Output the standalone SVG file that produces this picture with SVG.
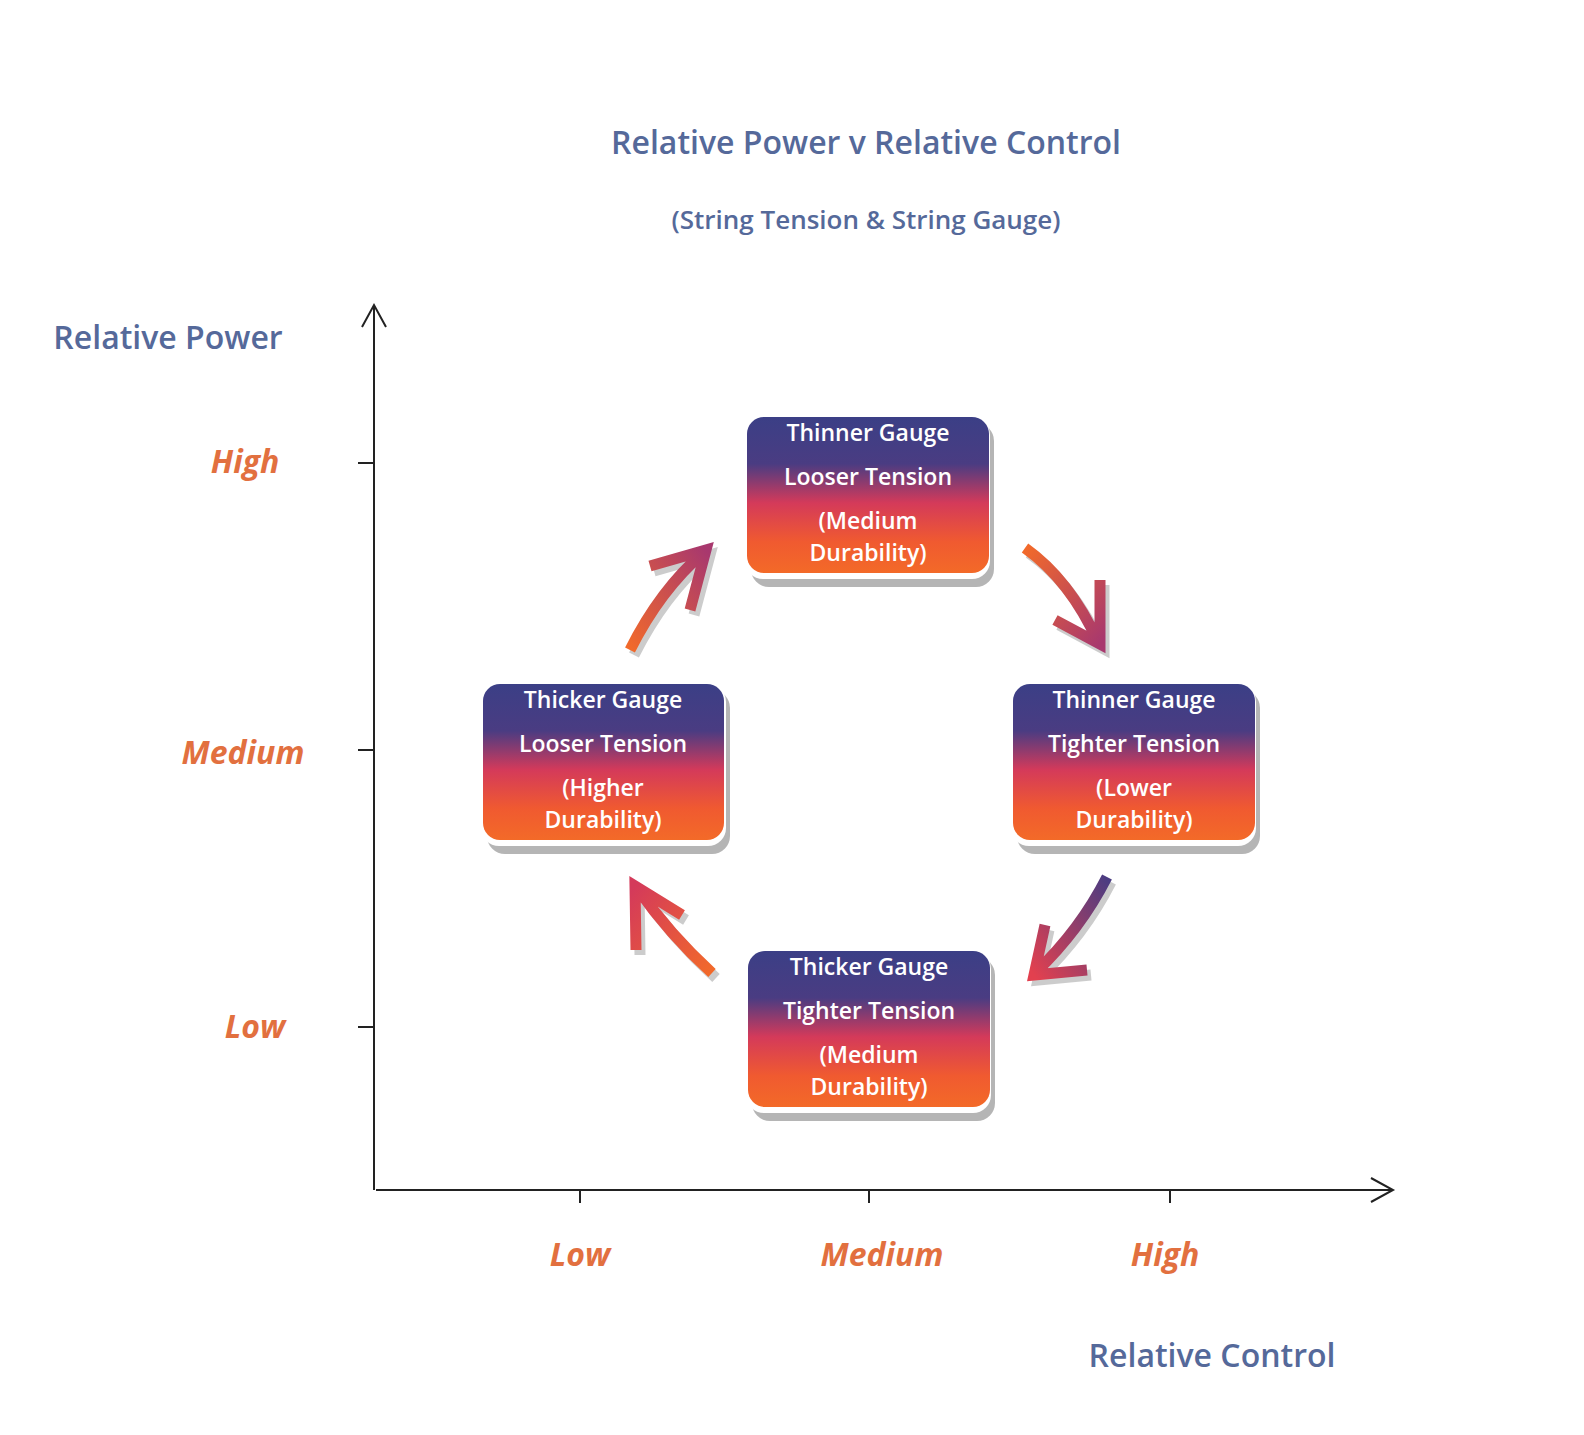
<svg xmlns="http://www.w3.org/2000/svg" width="1584" height="1435" viewBox="0 0 1584 1435">
<style>
.t{font-family:"Open Sans","Liberation Sans",sans-serif;font-weight:600;fill:#55699a;text-anchor:middle}
.lab{font-family:"Open Sans","Liberation Sans",sans-serif;font-weight:700;font-style:italic;fill:#e2703f;font-size:32px;text-anchor:middle}
.bt{font-family:"Open Sans","Liberation Sans",sans-serif;font-weight:600;fill:#fff;font-size:23px;text-anchor:middle}
.ax{stroke:#222;stroke-width:2;fill:none}
.arr{fill:none;stroke-width:11;stroke-linecap:butt;stroke-linejoin:miter}
.sh{fill:none;stroke:#aaa;stroke-width:11}
</style>
<defs>
<linearGradient id="bg" x1="0" y1="0" x2="0" y2="1">
<stop offset="0" stop-color="#3b3f86"/><stop offset="0.3" stop-color="#4a3c82"/><stop offset="0.55" stop-color="#d43a5a"/><stop offset="0.8" stop-color="#f05a30"/><stop offset="1" stop-color="#f36a28"/>
</linearGradient>
<linearGradient id="ag1" x1="0" y1="1" x2="1" y2="0"><stop offset="0" stop-color="#f26a2a"/><stop offset="1" stop-color="#a8386e"/></linearGradient>
<linearGradient id="ag2" x1="0" y1="0" x2="1" y2="1"><stop offset="0" stop-color="#f26a2a"/><stop offset="1" stop-color="#a8386e"/></linearGradient>
<linearGradient id="ag3" x1="1" y1="0" x2="0" y2="1"><stop offset="0" stop-color="#4a3c82"/><stop offset="1" stop-color="#e2404f"/></linearGradient>
<linearGradient id="ag4" x1="1" y1="1" x2="0" y2="0"><stop offset="0" stop-color="#f26a2a"/><stop offset="1" stop-color="#d43a5a"/></linearGradient>
</defs>
<text class="t" x="866" y="154" font-size="32">Relative Power v Relative Control</text>
<text class="t" x="866" y="229" font-size="26">(String Tension &amp; String Gauge)</text>
<text class="t" x="168" y="349" font-size="32" fill="#4b5a8c">Relative Power</text>
<text class="t" x="1212" y="1367" font-size="32">Relative Control</text>
<g id="axes">
<path class="ax" d="M374 1190 V305 M362 327 L374 305 L386 327"/>
<path class="ax" d="M376 1190 H1393 M1371 1178 L1393 1190 L1371 1202"/>
<path class="ax" d="M358 463 H374 M358 750 H374 M358 1027 H374 M580 1190 V1203 M869 1190 V1203 M1170 1190 V1203"/>
</g>
<text class="lab" x="245" y="473">High</text>
<text class="lab" x="243" y="764">Medium</text>
<text class="lab" x="255" y="1038">Low</text>
<text class="lab" x="580" y="1266">Low</text>
<text class="lab" x="882" y="1266">Medium</text>
<text class="lab" x="1165" y="1266">High</text>
<g id="n1"><rect x="751" y="423" width="243" height="164" rx="18" fill="#b5b5b5"/><rect x="745" y="417" width="245" height="162" rx="18" fill="#fff"/><rect x="747" y="417" width="242" height="156" rx="17" fill="url(#bg)"/>
<text class="bt" x="868" y="441">Thinner Gauge</text><text class="bt" x="868" y="485">Looser Tension</text><text class="bt" x="868" y="529">(Medium</text><text class="bt" x="868" y="561">Durability)</text></g>
<g id="n2"><rect x="487" y="690" width="243" height="164" rx="18" fill="#b5b5b5"/><rect x="481" y="684" width="245" height="162" rx="18" fill="#fff"/><rect x="483" y="684" width="241" height="156" rx="17" fill="url(#bg)"/>
<text class="bt" x="603" y="708">Thicker Gauge</text><text class="bt" x="603" y="752">Looser Tension</text><text class="bt" x="603" y="796">(Higher</text><text class="bt" x="603" y="828">Durability)</text></g>
<g id="n3"><rect x="1017" y="690" width="243" height="164" rx="18" fill="#b5b5b5"/><rect x="1011" y="684" width="245" height="162" rx="18" fill="#fff"/><rect x="1013" y="684" width="242" height="156" rx="17" fill="url(#bg)"/>
<text class="bt" x="1134" y="708">Thinner Gauge</text><text class="bt" x="1134" y="752">Tighter Tension</text><text class="bt" x="1134" y="796">(Lower</text><text class="bt" x="1134" y="828">Durability)</text></g>
<g id="n4"><rect x="752" y="957" width="243" height="164" rx="18" fill="#b5b5b5"/><rect x="746" y="951" width="245" height="162" rx="18" fill="#fff"/><rect x="748" y="951" width="242" height="156" rx="17" fill="url(#bg)"/>
<text class="bt" x="869" y="975">Thicker Gauge</text><text class="bt" x="869" y="1019">Tighter Tension</text><text class="bt" x="869" y="1063">(Medium</text><text class="bt" x="869" y="1095">Durability)</text></g>
<g id="connectors">
<g transform="translate(4,5)" opacity="0.6">
<path class="sh" d="M630 650 Q660 590 704 552 M650 566 L706 550 L690 610"/>
<path class="sh" d="M1025 548 Q1070 580 1098 642 M1100 580 L1100 644 L1055 620"/>
<path class="sh" d="M1107 877 Q1080 930 1036 972 M1087 970 L1034 975 L1045 925"/>
<path class="sh" d="M712 973 Q670 935 637 888 M636 950 L635 886 L682 915"/>
</g>
<path class="arr" stroke="url(#ag1)" d="M630 650 Q660 590 704 552 M650 566 L706 550 L690 610"/>
<path class="arr" stroke="url(#ag2)" d="M1025 548 Q1070 580 1098 642 M1100 580 L1100 644 L1055 620"/>
<path class="arr" stroke="url(#ag3)" d="M1107 877 Q1080 930 1036 972 M1087 970 L1034 975 L1045 925"/>
<path class="arr" stroke="url(#ag4)" d="M712 973 Q670 935 637 888 M636 950 L635 886 L682 915"/>
</g>
</svg>
